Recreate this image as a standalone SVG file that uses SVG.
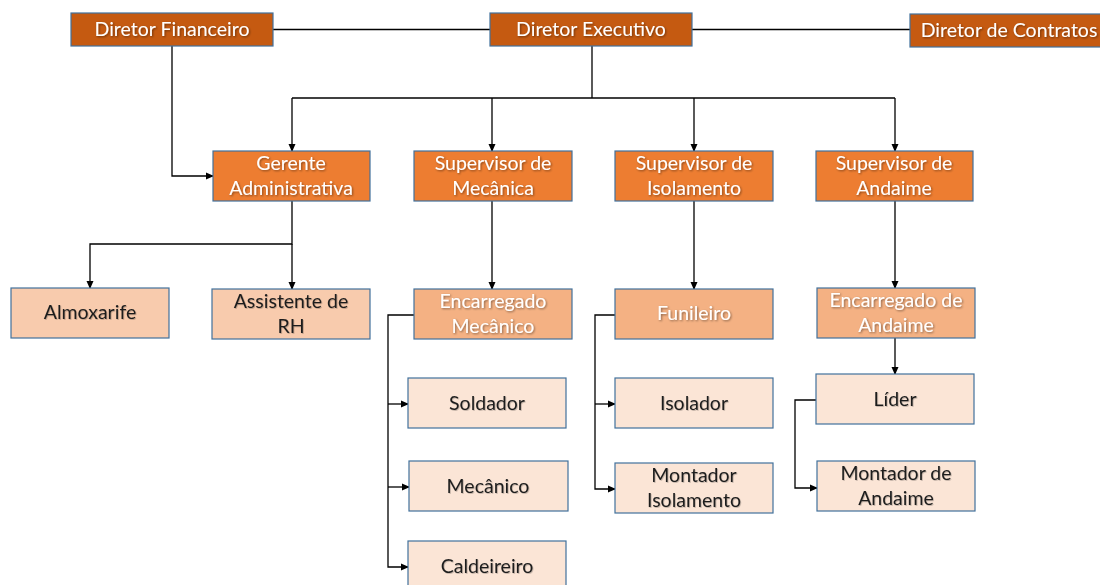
<svg xmlns="http://www.w3.org/2000/svg" width="1100" height="585" viewBox="0 0 1100 585">
<defs>
<marker id="ah" markerWidth="8" markerHeight="8" refX="7" refY="4" orient="auto" markerUnits="userSpaceOnUse">
<path d="M0,0.5 L8,4 L0,7.5 Z" fill="#000"/>
</marker>
<filter id="sh" x="-10%" y="-20%" width="120%" height="140%">
<feDropShadow dx="1" dy="1" stdDeviation="0.8" flood-color="#000" flood-opacity="0.45"/>
</filter>
<filter id="shk" x="-10%" y="-20%" width="120%" height="140%">
<feDropShadow dx="0.8" dy="0.8" stdDeviation="0.6" flood-color="#000" flood-opacity="0.25"/>
</filter>
</defs>
<style>
.box{stroke:#41719C;stroke-width:1.2}
.d{fill:#C55A11}
.s{fill:#ED7D31}
.e{fill:#F4B183}
.a{fill:#F8CBAD}
.l{fill:#FBE5D6}
text{font-family:Lato,"Open Sans","Liberation Sans",sans-serif;font-size:19.5px;text-anchor:middle}
.w{fill:#FFFFFF;filter:url(#sh)}
.k{fill:#1F1F1F;filter:url(#shk)}
.c{fill:none;stroke:#000;stroke-width:1.3}
</style>
<rect width="1100" height="585" fill="#fff"/>
<g id="connectors">
<path class="c" d="M273,29.5 H490"/>
<path class="c" d="M692,29.5 H910"/>
<path class="c" d="M592,46 V98"/>
<path class="c" d="M292,98 H895"/>
<path class="c" d="M292,98 V151" marker-end="url(#ah)"/>
<path class="c" d="M492,98 V151" marker-end="url(#ah)"/>
<path class="c" d="M694,98 V151" marker-end="url(#ah)"/>
<path class="c" d="M895,98 V151" marker-end="url(#ah)"/>
<path class="c" d="M172,46 V176 H213" marker-end="url(#ah)"/>
<path class="c" d="M292,201 V244 H90 V288" marker-end="url(#ah)"/>
<path class="c" d="M292,244 V289" marker-end="url(#ah)"/>
<path class="c" d="M492,201 V289" marker-end="url(#ah)"/>
<path class="c" d="M694,201 V289" marker-end="url(#ah)"/>
<path class="c" d="M895,201 V288" marker-end="url(#ah)"/>
<path class="c" d="M414,315 H388 V567 H408" marker-end="url(#ah)"/>
<path class="c" d="M388,404 H408" marker-end="url(#ah)"/>
<path class="c" d="M388,487 H409" marker-end="url(#ah)"/>
<path class="c" d="M615,315 H595 V489 H615" marker-end="url(#ah)"/>
<path class="c" d="M595,404 H615" marker-end="url(#ah)"/>
<path class="c" d="M895,338 V374" marker-end="url(#ah)"/>
<path class="c" d="M816,400 H795 V488 H817" marker-end="url(#ah)"/>
</g>
<g id="diretor-financeiro"><rect class="box d" x="71" y="13" width="202" height="33"/><text class="w" x="172" y="36">Diretor Financeiro</text></g>
<g id="diretor-executivo"><rect class="box d" x="490" y="13" width="202" height="33"/><text class="w" x="591" y="36">Diretor Executivo</text></g>
<g id="diretor-contratos"><rect class="box d" x="910" y="14" width="195" height="33"/><text class="w" x="1009" y="37">Diretor de Contratos</text></g>
<g id="gerente-administrativa"><rect class="box s" x="213" y="151" width="157" height="50"/><text class="w" x="291" y="170">Gerente</text><text class="w" x="291" y="195">Administrativa</text></g>
<g id="supervisor-mecanica"><rect class="box s" x="414" y="151" width="158" height="50"/><text class="w" x="493" y="170">Supervisor de</text><text class="w" x="493" y="195">Mecânica</text></g>
<g id="supervisor-isolamento"><rect class="box s" x="615" y="151" width="158" height="50"/><text class="w" x="694" y="170">Supervisor de</text><text class="w" x="694" y="195">Isolamento</text></g>
<g id="supervisor-andaime"><rect class="box s" x="816" y="151" width="157" height="50"/><text class="w" x="894" y="170">Supervisor de</text><text class="w" x="894" y="195">Andaime</text></g>
<g id="almoxarife"><rect class="box a" x="11" y="288" width="158" height="50"/><text class="k" x="90" y="319">Almoxarife</text></g>
<g id="assistente-rh"><rect class="box a" x="212" y="289" width="158" height="50"/><text class="k" x="291" y="308">Assistente de</text><text class="k" x="291" y="333">RH</text></g>
<g id="encarregado-mecanico"><rect class="box e" x="414" y="289" width="158" height="50"/><text class="w" x="493" y="308">Encarregado</text><text class="w" x="493" y="333">Mecânico</text></g>
<g id="funileiro"><rect class="box e" x="615" y="289" width="158" height="50"/><text class="w" x="694" y="320">Funileiro</text></g>
<g id="encarregado-andaime"><rect class="box e" x="817" y="288" width="158" height="50"/><text class="w" x="896" y="307">Encarregado de</text><text class="w" x="896" y="332">Andaime</text></g>
<g id="soldador"><rect class="box l" x="408" y="378" width="158" height="50"/><text class="k" x="487" y="410">Soldador</text></g>
<g id="mecanico"><rect class="box l" x="409" y="461" width="159" height="50"/><text class="k" x="488" y="493">Mecânico</text></g>
<g id="caldeireiro"><rect class="box l" x="408" y="541" width="158" height="50"/><text class="k" x="487" y="573">Caldeireiro</text></g>
<g id="isolador"><rect class="box l" x="615" y="378" width="158" height="50"/><text class="k" x="694" y="410">Isolador</text></g>
<g id="montador-isolamento"><rect class="box l" x="615" y="463" width="158" height="50"/><text class="k" x="694" y="482">Montador</text><text class="k" x="694" y="507">Isolamento</text></g>
<g id="lider"><rect class="box l" x="816" y="374" width="158" height="50"/><text class="k" x="895" y="406">Líder</text></g>
<g id="montador-andaime"><rect class="box l" x="817" y="461" width="158" height="50"/><text class="k" x="896" y="480">Montador de</text><text class="k" x="896" y="505">Andaime</text></g>
</svg>
